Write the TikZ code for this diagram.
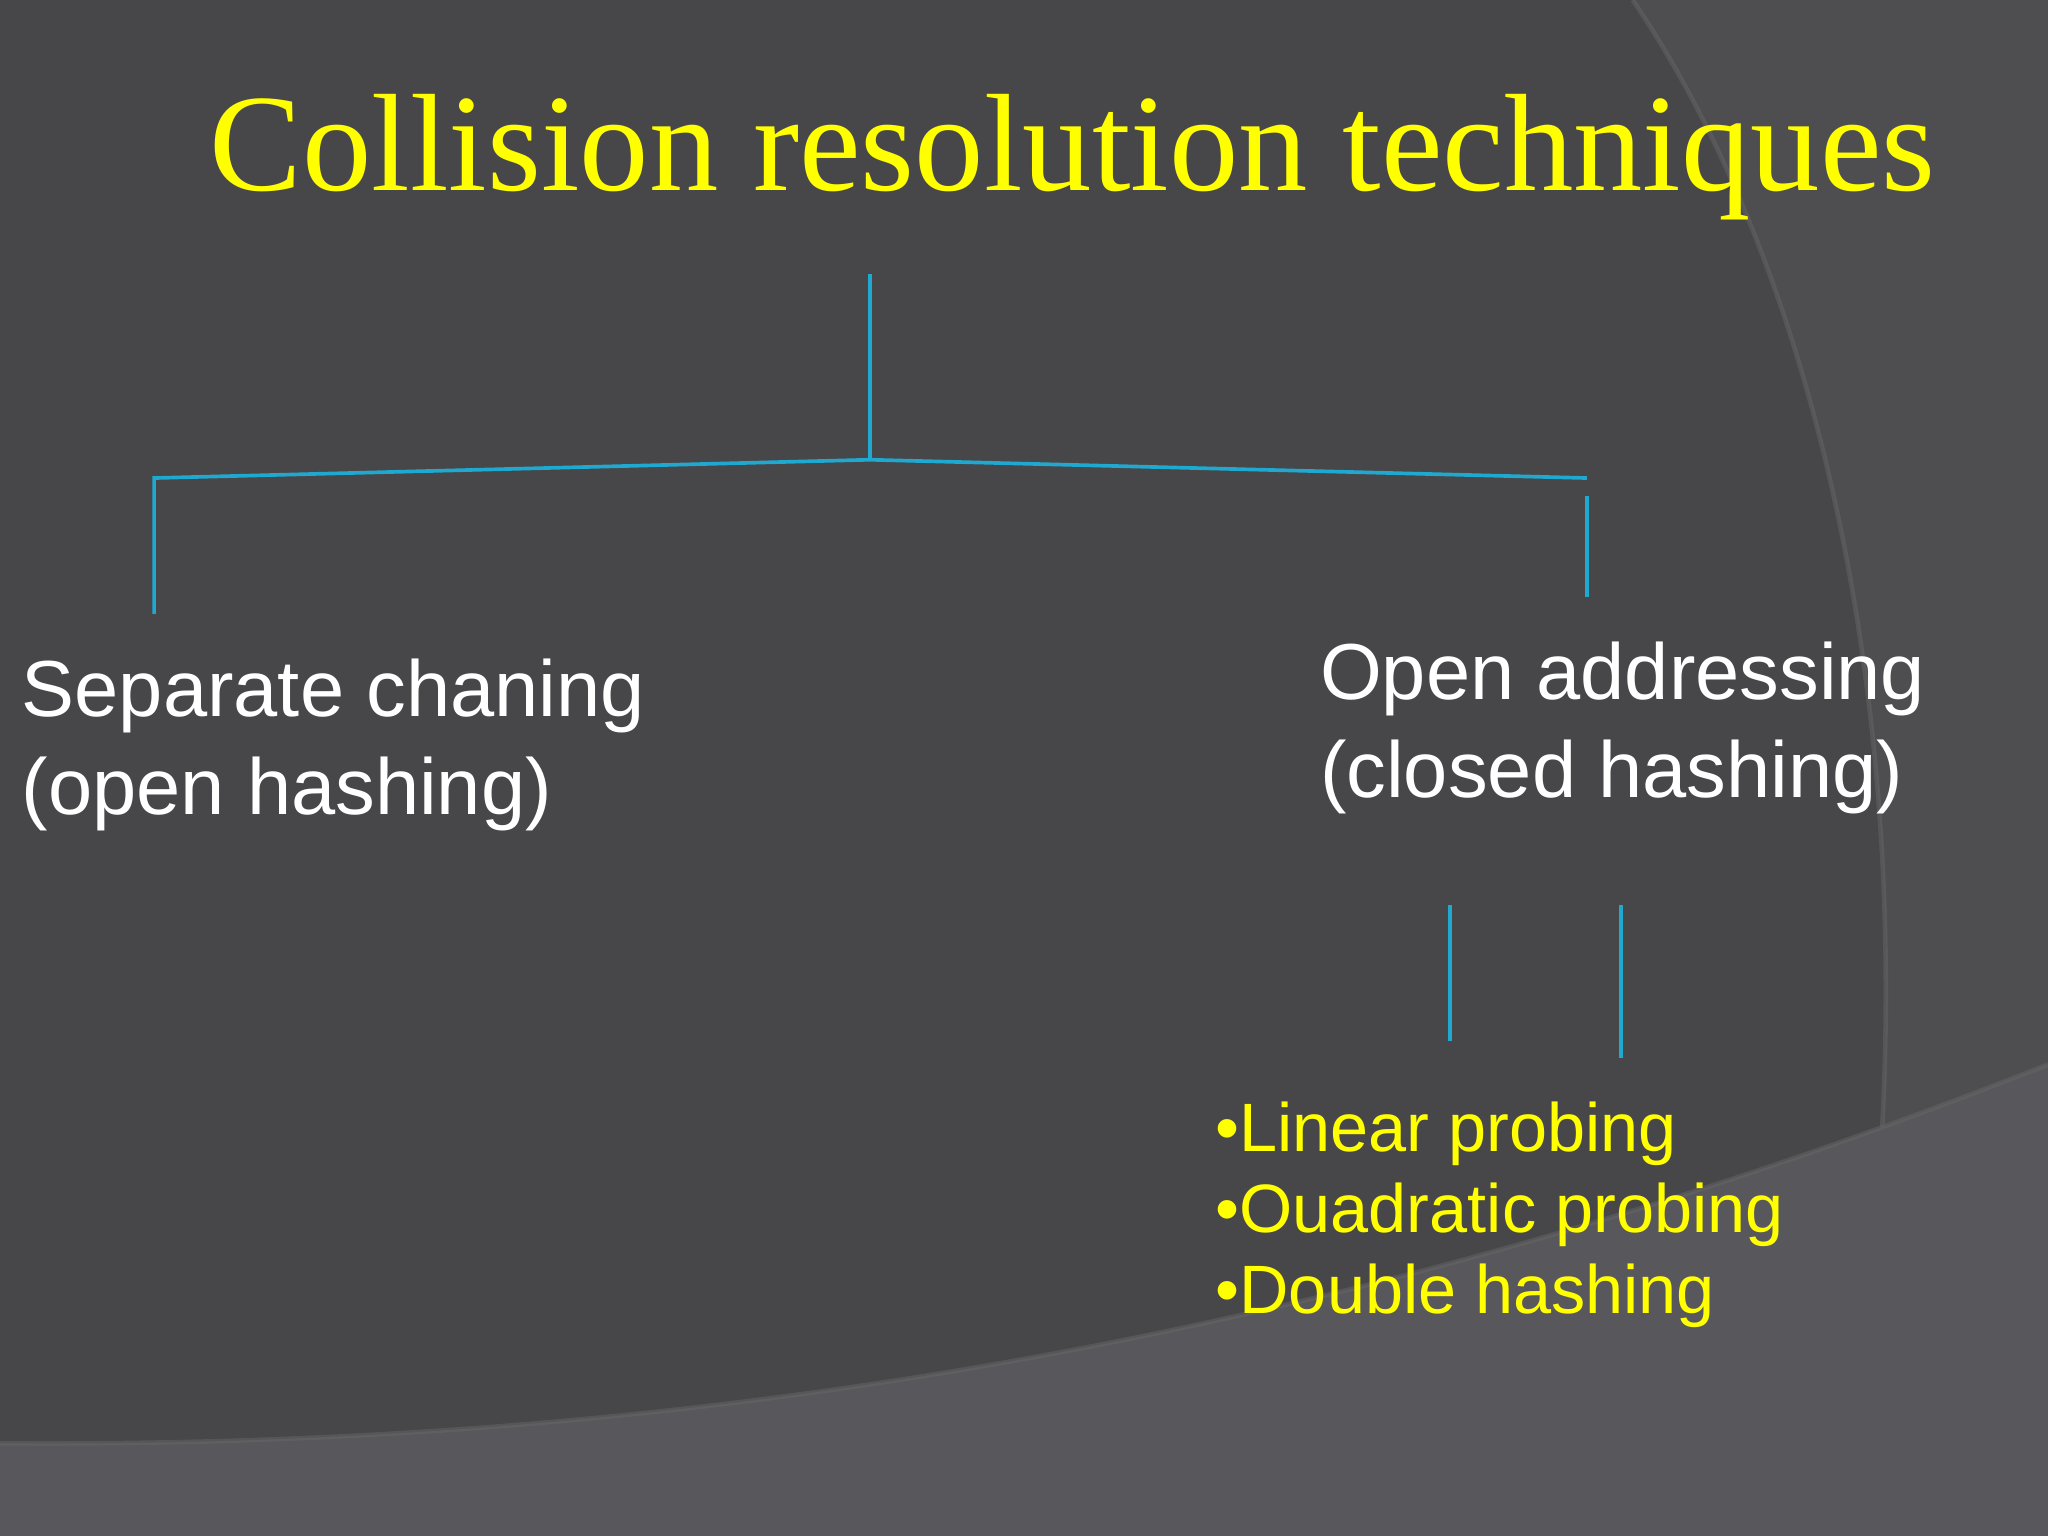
\documentclass[tikz,border=0pt]{standalone}
\usepackage{fontspec}
\setmainfont{Liberation Sans}
\newfontfamily\titlefont{Liberation Serif}
\definecolor{bg}{HTML}{47474A}
\definecolor{bgl}{HTML}{4E4E51}
\definecolor{bgll}{HTML}{58575B}
\definecolor{cy}{HTML}{1FA8D0}
\definecolor{yel}{HTML}{FFFF00}
\begin{document}
\begin{tikzpicture}[x=0.01cm,y=-0.01cm,
  conn/.style={cy,line width=0.8pt},
  body/.style={white,font=\fontsize{17.3}{21.3}\selectfont,align=left,inner sep=0pt,anchor=north west},
  items/.style={yel,font=\fontsize{14.9}{17.6}\selectfont,align=left,inner sep=0pt,anchor=north west}]
\useasboundingbox (0,0) rectangle (1568,1176);
\fill[bg] (0,0) rectangle (1568,1176);
% background curves
\fill[bgl] (1250,0) .. controls (1420,250) and (1500,700) .. (1400,1176) -- (1568,1176) -- (1568,0) -- cycle;
\draw[black!60,line width=1pt,opacity=0.5] (1250,0) .. controls (1420,250) and (1500,700) .. (1400,1176);
\fill[bgll] (0,1105) .. controls (600,1110) and (1100,1000) .. (1568,815) -- (1568,1176) -- (0,1176) -- cycle;
\draw[black!60,line width=1pt,opacity=0.5] (0,1105) .. controls (600,1110) and (1100,1000) .. (1568,815);
% title
\node[yel,inner sep=0pt,anchor=west] (title) at (160,120) {\resizebox{13.2cm}{!}{\titlefont Collision resolution techniques}};
% connectors
\coordinate (t0) at (666,210); \coordinate (t1) at (666,352);
\coordinate (l0) at (118,366); \coordinate (l1) at (118,470);
\coordinate (r0) at (1215,366); \coordinate (r1) at (1215,380); \coordinate (r2) at (1215,457);
\coordinate (a0) at (1110,693); \coordinate (a1) at (1110,797);
\coordinate (b0) at (1241,693); \coordinate (b1) at (1241,810);
\draw[conn] (t0) -- (t1);
\draw[conn] (l1) -- (l0) -- (t1) -- (r0);
\draw[conn] (r1) -- (r2);
\draw[conn] (a0) -- (a1);
\draw[conn] (b0) -- (b1);
% texts
\node[body] (sep) at (16,504) {Separate chaning\\(open hashing)};
\node[body] (open) at (1010,491) {Open addressing\\(closed hashing)};
\node[items] (list) at (930,843) {•Linear probing\\•Ouadratic probing\\•Double hashing};
\end{tikzpicture}
\end{document}
